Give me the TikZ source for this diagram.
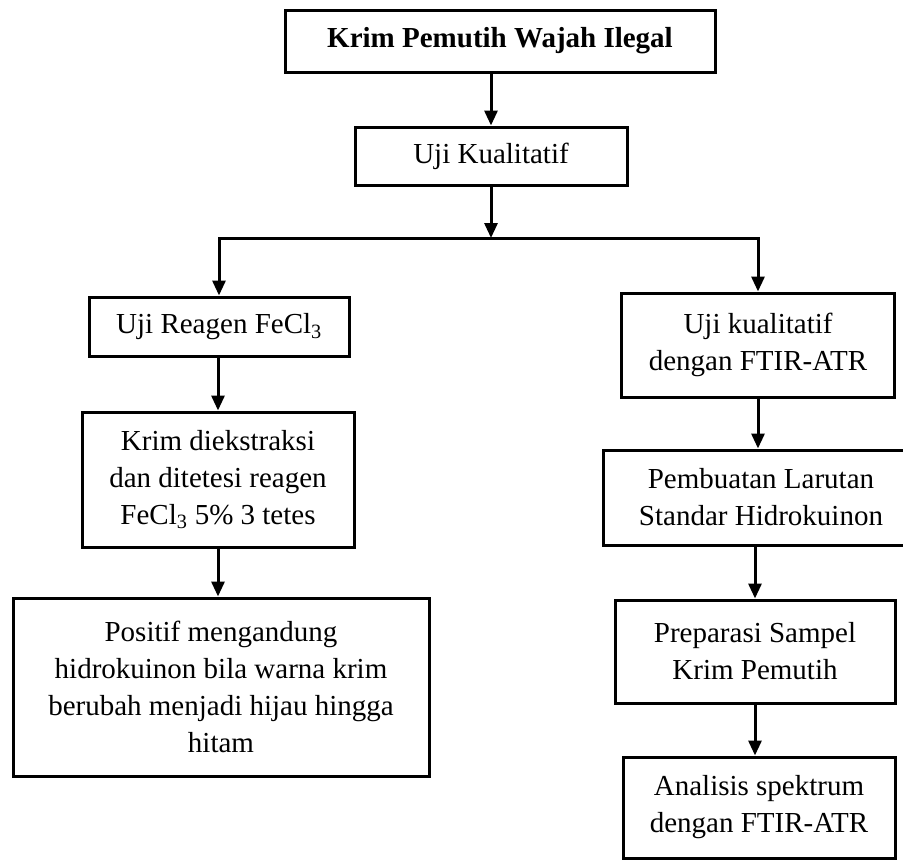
\documentclass[tikz,border=0pt]{standalone}
\usepackage{fontspec}
\setmainfont{Liberation Serif}
\usepackage{tikz}
\usetikzlibrary{calc}
\usetikzlibrary{arrows.meta}
\tikzset{
  flowbox/.style={draw, line width=3pt, align=center, inner sep=0pt,
    font=\fontsize{29}{37}\selectfont},
  arr/.style={-{Triangle[length=15pt,width=13pt]}, line width=3pt}
}
\newcommand{\stepbox}[6]{\node[flowbox, minimum width=#4, minimum height=#5] (#1) at ( #2 , #3 ) {#6};}

\begin{document}
\begin{tikzpicture}[x=1pt,y=-1pt]
        \clip (0,0) rectangle (903,860);
        \fill[white] (0,0) rectangle (903,860);

        % top
        \stepbox{krim}{500}{41}{430}{62}{\textbf{Krim Pemutih Wajah Ilegal}}
        \stepbox{kual}{491}{156}{272}{58}{Uji Kualitatif}
        \coordinate (split) at (491,238);

        % left column
        \stepbox{reagen}{219}{326.5}{260}{59}{Uji Reagen FeCl\textsubscript{3}}
        \stepbox{ekstrak}{218}{479.5}{272}{135}{Krim diekstraksi\\dan ditetesi reagen\\FeCl\textsubscript{3} 5\% 3 tetes}
        \stepbox{positif}{221}{687}{416}{178}{Positif mengandung\\hidrokuinon bila warna krim\\berubah menjadi hijau hingga\\hitam}

        % right column
        \stepbox{ftir}{758}{345}{273}{104}{Uji kualitatif\\dengan FTIR-ATR}
        \stepbox{larutan}{761}{497.5}{316}{95}{Pembuatan Larutan\\Standar Hidrokuinon}
        \stepbox{preparasi}{755}{651.5}{280}{103}{Preparasi Sampel\\Krim Pemutih}
        \stepbox{analisis}{759}{807.5}{272}{101}{Analisis spektrum\\dengan FTIR-ATR}

        % arrows
        \draw[arr] (kual.north |- krim.south) -- (kual.north);
        \draw[arr] (kual.south) -- (split);
        \draw[arr] (split) -| (reagen.north);
        \draw[arr] (split) -| (ftir.north);
        \draw[arr] (reagen.south -| ekstrak.north) -- (ekstrak.north);
        \draw[arr] (ekstrak.south) -- (ekstrak.south |- positif.north);
        \draw[arr] (ftir.south) -- (ftir.south |- larutan.north);
        \draw[arr] (preparasi.north |- larutan.south) -- (preparasi.north);
        \draw[arr] (preparasi.south) -- (preparasi.south |- analisis.north);

\end{tikzpicture}
\end{document}
